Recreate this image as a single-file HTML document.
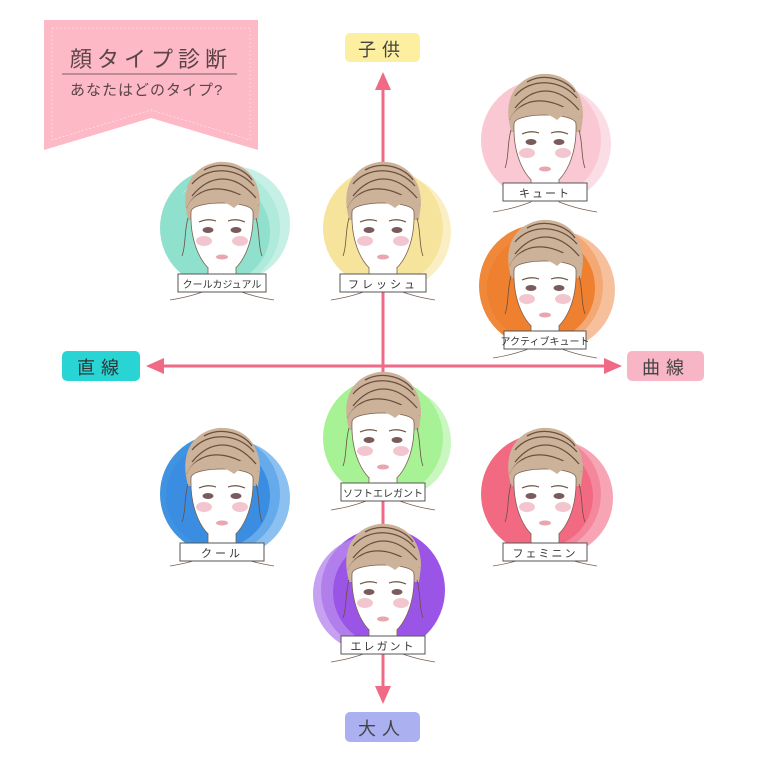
<!DOCTYPE html>
<html><head><meta charset="utf-8"><style>
body{margin:0;background:#fff;}
svg text{font-family:"Liberation Sans","Noto Sans CJK JP",sans-serif;}
</style></head><body>
<svg width="768" height="768" viewBox="0 0 768 768" xmlns="http://www.w3.org/2000/svg">
<defs>
<g id="face">
  <path d="M-36,-18 C-40,-44 -28,-62 -4,-66 C20,-68 38,-52 38,-24 L36,-8 L-34,-8 Z" fill="#cdb29a"/>
  <path d="M-30,-44 C-15,-62 15,-62 32,-42 M-30,-32 C-12,-54 12,-56 34,-30 M-18,-58 C0,-68 22,-60 30,-48 M-35,-20 C-25,-42 2,-48 36,-22" stroke="#6b5040" stroke-width="1.3" fill="none"/>
  <path d="M-31,-16 C-31,-28 31,-28 31,-16 C32,12 22,42 0,48 C-22,42 -32,12 -31,-16 Z" fill="#fff" stroke="#7a6050" stroke-width="0.8"/>
  <path d="M-36,-18 C-30,-38 -5,-42 10,-28 C20,-38 32,-34 38,-18 C30,-28 20,-28 12,-20 C0,-30 -26,-32 -36,-18 Z" fill="#cdb29a"/>
  <path d="M-34,-10 C-38,4 -36,18 -40,28 M34,-10 C38,4 36,18 40,28" stroke="#6b5040" stroke-width="0.8" fill="none"/>
  <rect x="-14" y="40" width="28" height="22" fill="#fff"/>
  <path d="M-14,40 L-14,62 M14,40 L14,62" stroke="#7a6050" stroke-width="0.8"/>
  <path d="M-14,62 C-30,68 -40,70 -52,72 M14,62 C30,68 40,70 52,72" stroke="#7a6050" stroke-width="0.8" fill="none"/>
  <ellipse cx="-14" cy="2" rx="5.5" ry="3" fill="#7a5a5a"/>
  <ellipse cx="14" cy="2" rx="5.5" ry="3" fill="#7a5a5a"/>
  <path d="M-23,-6 Q-14,-10 -6,-7 M6,-7 Q14,-10 23,-6" stroke="#6b5040" stroke-width="1.2" fill="none"/>
  <ellipse cx="-18" cy="13" rx="8" ry="5" fill="#f3c6cf"/>
  <ellipse cx="18" cy="13" rx="8" ry="5" fill="#f3c6cf"/>
  <ellipse cx="0" cy="29" rx="6" ry="2.5" fill="#e8a6b0"/>
</g>
</defs>

<path d="M44,20 L258,20 L258,150 L151,118 L44,150 Z" fill="#fdbac6"/>
<path d="M52,28 L250,28 L250,140 L151,110 L52,140 Z" fill="none" stroke="#fff" stroke-width="0.6" stroke-dasharray="2,2" opacity="0.7"/>
<text x="70" y="67" font-size="22" fill="#5a4446" letter-spacing="5">顔タイプ診断</text>
<line x1="62" y1="74" x2="237" y2="74" stroke="#7a6062" stroke-width="1"/>
<text x="70" y="95" font-size="15" fill="#5a4446" letter-spacing="1">あなたはどのタイプ?</text>

<g stroke="#f06a85" stroke-width="3" fill="#f06a85">
<line x1="383" y1="88" x2="383" y2="688"/>
<line x1="160" y1="366" x2="610" y2="366"/>
<polygon points="383,72 375,90 391,90" stroke="none"/>
<polygon points="383,704 375,686 391,686" stroke="none"/>
<polygon points="146,366 164,358 164,374" stroke="none"/>
<polygon points="622,366 604,358 604,374" stroke="none"/>
</g>
<rect x="345" y="33" width="75" height="29" rx="5" fill="#fcefa0"/>
<text x="382" y="56" font-size="18" fill="#444" text-anchor="middle" letter-spacing="6">子供</text>
<rect x="345" y="712" width="75" height="30" rx="5" fill="#aab0f0"/>
<text x="382" y="735" font-size="18" fill="#444" text-anchor="middle" letter-spacing="6">大人</text>
<rect x="62" y="351" width="78" height="30" rx="5" fill="#29d4d4"/>
<text x="101" y="374" font-size="18" fill="#333" text-anchor="middle" letter-spacing="6">直線</text>
<rect x="627" y="351" width="77" height="30" rx="5" fill="#f7b5c5"/>
<text x="666" y="374" font-size="18" fill="#444" text-anchor="middle" letter-spacing="6">曲線</text>

<g transform="translate(545,140)">
<circle cx="-4" cy="0" r="60" fill="#f9c8d3"/><circle cx="8" cy="4" r="58" fill="#f9c8d3" opacity="0.6"/>
<use href="#face"/>
<rect x="-42" y="43" width="84" height="18" fill="#fff" stroke="#555"/><text x="0" y="57" font-size="11" text-anchor="middle" fill="#333" letter-spacing="2">キュート</text></g>

<g transform="translate(222,228)">
<circle cx="-2" cy="0" r="60" fill="#8fe0cc"/><circle cx="10" cy="-4" r="58" fill="#b8ecdf" opacity="0.8"/><circle cx="-4" cy="4" r="52" fill="#8fe0cc"/>
<use href="#face"/>
<rect x="-44" y="46" width="88" height="18" fill="#fff" stroke="#555"/><text x="0" y="60" font-size="10" text-anchor="middle" fill="#333">クールカジュアル</text></g>

<g transform="translate(383,228)">
<circle cx="0" cy="0" r="60" fill="#f7e49c"/><circle cx="10" cy="4" r="58" fill="#f7e49c" opacity="0.6"/>
<use href="#face"/>
<rect x="-43" y="46" width="86" height="18" fill="#fff" stroke="#555"/><text x="0" y="60" font-size="11" text-anchor="middle" fill="#333" letter-spacing="3">フレッシュ</text></g>

<g transform="translate(545,286)">
<circle cx="-4" cy="0" r="62" fill="#f0883a"/><circle cx="10" cy="4" r="60" fill="#f5b083" opacity="0.8"/><circle cx="-4" cy="2" r="54" fill="#ee8030"/>
<use href="#face"/>
<rect x="-41" y="45" width="82" height="18" fill="#fff" stroke="#555"/><text x="0" y="59" font-size="10" text-anchor="middle" fill="#333">アクティブキュート</text></g>

<g transform="translate(383,438)">
<circle cx="0" cy="0" r="60" fill="#a6f294"/><circle cx="12" cy="4" r="56" fill="#a6f294" opacity="0.6"/>
<use href="#face"/>
<rect x="-42" y="45" width="84" height="18" fill="#fff" stroke="#555"/><text x="0" y="59" font-size="10" text-anchor="middle" fill="#333">ソフトエレガント</text></g>

<g transform="translate(222,494)">
<circle cx="-2" cy="0" r="60" fill="#3f93e0"/><circle cx="10" cy="4" r="58" fill="#6fb0ec" opacity="0.8"/><circle cx="-4" cy="2" r="52" fill="#3a8de0"/>
<use href="#face"/>
<rect x="-42" y="49" width="84" height="18" fill="#fff" stroke="#555"/><text x="0" y="63" font-size="11" text-anchor="middle" fill="#333" letter-spacing="3">クール</text></g>

<g transform="translate(545,494)">
<circle cx="-4" cy="0" r="60" fill="#f26a82"/><circle cx="10" cy="4" r="58" fill="#f58fa2" opacity="0.8"/><circle cx="-4" cy="2" r="52" fill="#f26a82"/>
<use href="#face"/>
<rect x="-42" y="49" width="84" height="18" fill="#fff" stroke="#555"/><text x="0" y="63" font-size="11" text-anchor="middle" fill="#333" letter-spacing="2">フェミニン</text></g>

<g transform="translate(383,590)">
<circle cx="0" cy="0" r="62" fill="#9b55e6"/><circle cx="-12" cy="4" r="58" fill="#b888ee" opacity="0.8"/><circle cx="4" cy="2" r="54" fill="#9b55e6"/>
<use href="#face"/>
<rect x="-42" y="46" width="84" height="18" fill="#fff" stroke="#555"/><text x="0" y="60" font-size="11" text-anchor="middle" fill="#333" letter-spacing="2">エレガント</text></g>
</svg>
</body></html>
